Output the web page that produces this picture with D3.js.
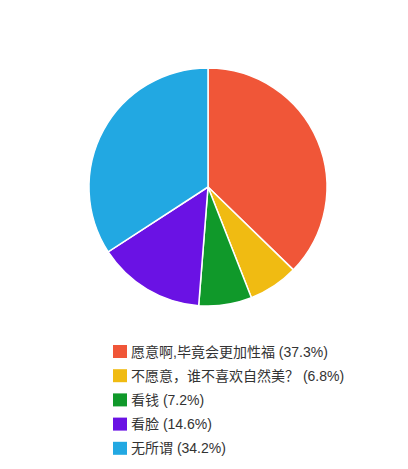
<!DOCTYPE html>
<html>
<head>
<meta charset="utf-8">
<script src="https://cdn.jsdelivr.net/npm/d3@7"></script>
<style>
  body { margin: 0; background: #fff; }
  svg { display: block; }
</style>
</head>
<body>
<svg id="mainSvg" width="408" height="469"></svg>
<script>
var categories = ["愿意啊,毕竟会更加性福", "不愿意，谁不喜欢自然美？", "看钱", "看脸", "无所谓"];
var percents = [37.3, 6.8, 7.2, 14.6, 34.2];
var colors = ["#f05638", "#f0bb12", "#10992a", "#6a12e4", "#22a8e2"];

var data = categories.map(function(c, i) {
  return { name: c, value: percents[i], color: colors[i] };
});

var svg = d3.select("#mainSvg");

var radius = 119;
var pieGroup = svg.append("g")
  .attr("transform", "translate(208,187)");

var pie = d3.pie()
  .sort(null)
  .value(function(d) { return d.value; });

var arc = d3.arc()
  .innerRadius(0)
  .outerRadius(radius);

pieGroup.selectAll("path")
  .data(pie(data))
  .enter().append("path")
  .attr("d", arc)
  .attr("fill", function(d) { return d.data.color; })
  .attr("stroke", "#fff")
  .attr("stroke-width", 1.5);

// legend
var legend = svg.append("g")
  .attr("transform", "translate(113,345)");

var rowH = 24.2;

var rows = legend.selectAll(".row")
  .data(data)
  .enter().append("g")
  .attr("class", "row")
  .attr("transform", function(d, i) { return "translate(0," + (i * rowH) + ")"; });

rows.append("rect")
  .attr("width", 14)
  .attr("height", 13)
  .attr("fill", function(d) { return d.color; });

rows.append("text")
  .attr("x", 18)
  .attr("y", 11.5)
  .style("font-family", "'Liberation Sans', 'Noto Sans CJK SC', sans-serif")
  .style("font-size", "14px")
  .style("fill", "#333")
  .text(function(d) { return d.name + " (" + d.value + "%)"; });
</script>
</body>
</html>
